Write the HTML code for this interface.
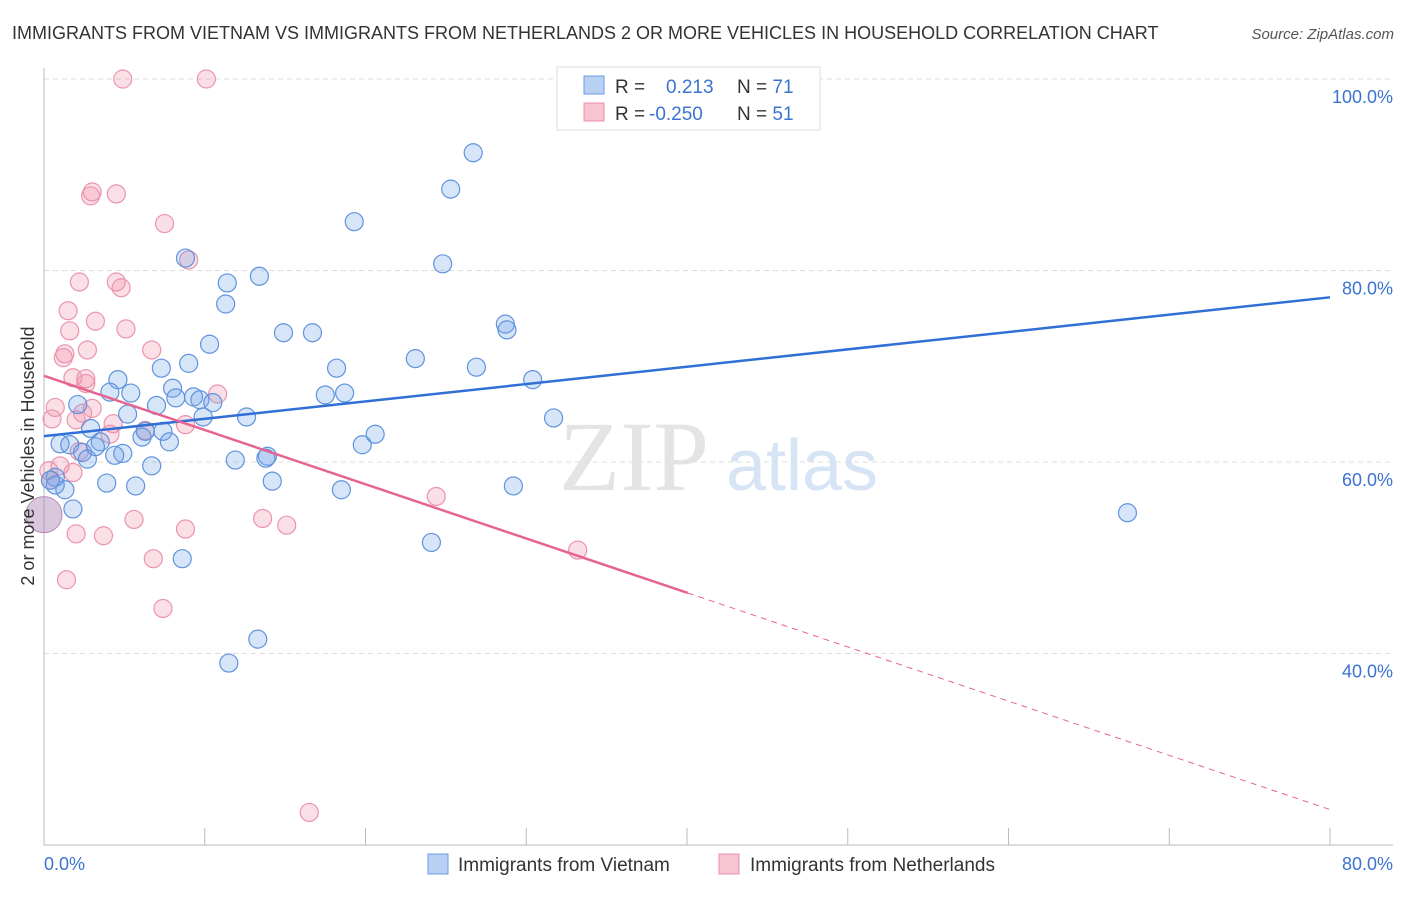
<!DOCTYPE html>
<html><head><meta charset="utf-8"><style>
body{margin:0;background:#fff;font-family:"Liberation Sans",sans-serif;}
</style></head><body>
<svg id="c" width="1406" height="892" xmlns="http://www.w3.org/2000/svg">
<text x="12" y="39" font-size="18" fill="#333">IMMIGRANTS FROM VIETNAM VS IMMIGRANTS FROM NETHERLANDS 2 OR MORE VEHICLES IN HOUSEHOLD CORRELATION CHART</text>
<text x="1394" y="39" font-size="15" fill="#555" font-style="italic" text-anchor="end">Source: ZipAtlas.com</text>
<text x="634" y="490" font-size="100" font-family="Liberation Serif,serif" fill="#e4e4e4" text-anchor="middle">ZIP</text>
<text x="802" y="490" font-size="72" fill="#d6e4f5" text-anchor="middle">atlas</text>
<g id="grid"></g>
<g id="pts"></g>
<g id="lines"></g>
<text transform="translate(34,456) rotate(-90)" font-size="18" fill="#333" text-anchor="middle">2 or more Vehicles in Household</text>
<text x="44" y="870" font-size="18" fill="#3b73d1">0.0%</text>
<text x="1393" y="870" font-size="18" fill="#3b73d1" text-anchor="end">80.0%</text>
<g>
<rect x="557" y="67" width="263" height="63" fill="#fff" stroke="#ddd"/>
<rect x="584" y="76" width="20" height="18" fill="#b8d0f2" stroke="#6a9be0"/>
<rect x="584" y="103" width="20" height="18" fill="#f8c4d2" stroke="#e890aa"/>
<text x="615" y="93" font-size="19" fill="#333">R = <tspan x="666" fill="#3b73d1">0.213</tspan><tspan x="737">N = </tspan><tspan fill="#3b73d1">71</tspan></text>
<text x="615" y="120" font-size="19" fill="#333">R = <tspan x="649" fill="#3b73d1">-0.250</tspan><tspan x="737">N = </tspan><tspan fill="#3b73d1">51</tspan></text>
</g>
<g>
<rect x="428" y="854" width="20" height="20" fill="#b8d0f2" stroke="#6a9be0"/>
<text x="458" y="871" font-size="19" fill="#333">Immigrants from Vietnam</text>
<rect x="719" y="854" width="20" height="20" fill="#f8c4d2" stroke="#e890aa"/>
<text x="750" y="871" font-size="19" fill="#333">Immigrants from Netherlands</text>
</g>
</svg>
<script>
const blueX=[26.7,25.3,19.3,24.8,8.8,13.4,11.4,11.3,16.7,14.9,28.7,28.8,10.3,23.1,26.9,18.2,9.0,7.3,4.6,30.4,8.0,17.5,18.7,4.1,5.4,8.2,9.3,9.7,10.5,7.0,2.1,5.2,9.9,12.6,31.7,2.9,6.3,7.4,20.6,1.0,3.5,6.1,7.8,19.8,1.6,2.4,3.2,4.9,4.4,2.7,13.9,13.8,11.9,6.7,0.7,3.9,5.7,14.2,29.2,18.5,1.3,1.8,67.4,24.1,8.6,13.3,11.5,0.4,0.7];
const blueY=[92.3,88.5,85.1,80.7,81.3,79.4,78.7,76.5,73.5,73.5,74.4,73.8,72.3,70.8,69.9,69.8,70.3,69.8,68.6,68.6,67.7,67.0,67.2,67.3,67.2,66.7,66.8,66.5,66.2,65.9,66.0,65.0,64.7,64.7,64.6,63.5,63.2,63.2,62.9,61.9,62.1,62.6,62.1,61.8,61.8,61.0,61.6,60.9,60.7,60.3,60.6,60.4,60.2,59.6,58.4,57.8,57.5,58.0,57.5,57.1,57.1,55.1,54.7,51.6,49.9,41.5,39.0,58.1,57.6];
const pinkX=[4.9,10.1,3.0,2.9,4.5,7.5,9.0,2.2,4.5,4.8,1.5,3.2,5.1,1.6,2.7,1.3,6.7,1.2,2.6,2.6,1.8,10.8,0.7,3.0,2.4,0.5,2.0,4.3,4.1,6.3,8.8,2.2,1.0,0.3,1.8,24.4,5.6,13.6,15.1,8.8,2.0,3.7,33.2,6.8,1.4,7.4,16.5,0.4];
const pinkY=[100,100,88.2,87.8,88.0,84.9,81.1,78.8,78.8,78.2,75.8,74.7,73.9,73.7,71.7,71.3,71.7,70.9,68.7,68.2,68.8,67.1,65.7,65.6,65.1,64.5,64.4,64.0,62.9,63.3,63.9,61.1,59.6,59.1,58.9,56.4,54.0,54.1,53.4,53.0,52.5,52.3,50.8,49.9,47.7,44.7,23.4,58.1];
const blueTrend=[62.7,77.2];
const pinkTrend=[69.0,23.7];
const pinkSolidEnd=40.05;
const yTicks=[100,80,60,40];
const xTicks=[0,10,20,30,40,50,60,70,80];
const NS='http://www.w3.org/2000/svg';
const sx=v=>44+v/80*1286, sy=v=>845-(v-20)/20*191.5;
function mk(tag,attrs,parent){const e=document.createElementNS(NS,tag);for(const k in attrs)e.setAttribute(k,attrs[k]);parent.appendChild(e);return e;}
const g=document.getElementById('grid');
yTicks.forEach(t=>{
 const l=mk('line',{x1:44,x2:1393,y1:sy(t),y2:sy(t),stroke:'#ddd','stroke-dasharray':'5,4'},g);
 
 
 const tx=mk('text',{x:1393,y:sy(t)+24,'font-size':18,fill:'#3b73d1','text-anchor':'end'},g);
 tx.textContent=t.toFixed(1)+'%';
 
 
});
let ax=mk('line',{x1:44,x2:1393,y1:845,y2:845,stroke:'#bbb'},g);


ax=mk('line',{x1:44,x2:44,y1:68,y2:845,stroke:'#bbb'},g);


xTicks.forEach(t=>{
 const l=mk('line',{x1:sx(t),x2:sx(t),y1:828,y2:845,stroke:'#bbb'},g);
 
 
});
const p=document.getElementById('pts');
pinkX.forEach((x,i)=>{
 const c=mk('circle',{cx:sx(x),cy:sy(pinkY[i]),r:9,fill:'rgba(240,140,170,0.28)',stroke:'#eb94ae','stroke-width':1.2},p);
 
 
});
blueX.forEach((x,i)=>{
 const c=mk('circle',{cx:sx(x),cy:sy(blueY[i]),r:9,fill:'rgba(110,160,230,0.28)',stroke:'#5f93dd','stroke-width':1.2},p);
 
 
});
const big=mk('circle',{cx:sx(0),cy:sy(54.5),r:18,fill:'rgba(170,130,180,0.45)',stroke:'#b58ab5'},p);


const L=document.getElementById('lines');
let ln=mk('line',{x1:sx(0),y1:sy(blueTrend[0]),x2:sx(80),y2:sy(blueTrend[1]),stroke:'#2f6fd6','stroke-width':2.5},L);


const py=x=>pinkTrend[0]+(pinkTrend[1]-pinkTrend[0])*x/80;
ln=mk('line',{x1:sx(0),y1:sy(py(0)),x2:sx(pinkSolidEnd),y2:sy(py(pinkSolidEnd)),stroke:'#e56590','stroke-width':2.5},L);


ln=mk('line',{x1:sx(pinkSolidEnd),y1:sy(py(pinkSolidEnd)),x2:sx(80),y2:sy(py(80)),stroke:'#e56590','stroke-width':1,'stroke-dasharray':'6,5'},L);


</script>
</body></html>
